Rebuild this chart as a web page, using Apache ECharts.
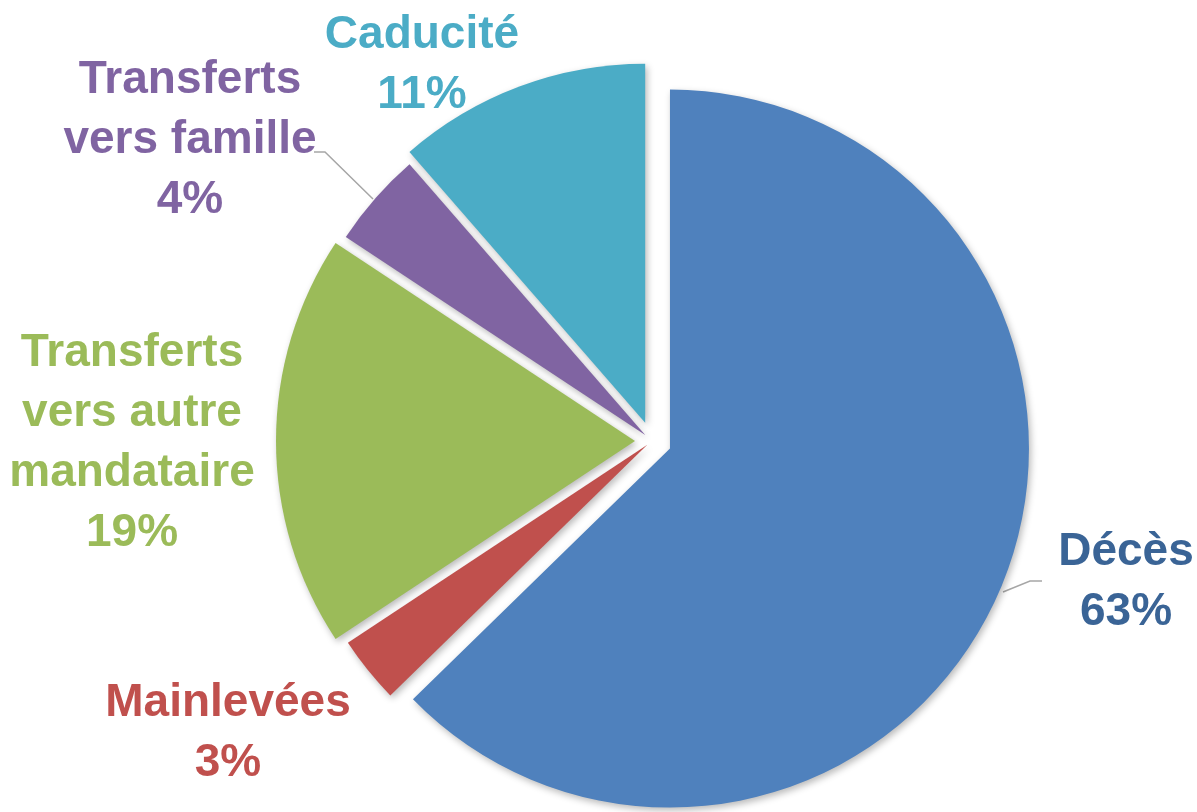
<!DOCTYPE html>
<html>
<head>
<meta charset="utf-8">
<script src="https://cdn.jsdelivr.net/npm/echarts@6/dist/echarts.min.js"></script>
<style>
  html, body { margin: 0; padding: 0; background: #fff; }
  #pieChart { width: 1197px; height: 812px; }
</style>
</head>
<body>
<div id="pieChart"></div>
<script>
// parts de chaque motif (%)
const categories = ['Décès', 'Mainlevées', 'Transferts\nvers autre\nmandataire', 'Transferts\nvers famille', 'Caducité'];
const shares = [62.7, 3.0, 18.6, 4.3, 11.4];
const sliceColors = ['#4f81bd', '#c0504d', '#9bbb59', '#8064a2', '#4bacc6'];
const labelColors = ['#3a6496', '#c0504d', '#9bbb59', '#8064a2', '#4bacc6'];
// décalage de chaque part (px)
const explode = [19.5, 6, 17, 9, 19.5];

// position des étiquettes (centre du bloc), dans l'ordre des catégories
const labelSpots = [
  { x: 1126, y: 582 },
  { x: 228, y: 733 },
  { x: 132, y: 443 },
  { x: 190, y: 140 },
  { x: 422, y: 65 }
];
const leaderLines = {
  0: [[1003, 592], [1030, 581], [1042, 581]],
  3: [[373, 199], [325, 152], [314, 152]]
};

const pieCenter = [652, 441];
const pieRadius = 359;
const hidden = { color: 'rgba(0,0,0,0)', shadowColor: 'rgba(0,0,0,0)' };

let seriesList = [];
// une série par part pour pouvoir détacher chacune de sa propre distance
for (let i = 0; i < categories.length; i++) {
  let data = [];
  for (let j = 0; j < categories.length; j++) {
    data.push({
      name: categories[j],
      value: shares[j],
      selected: j === i,
      itemStyle: j === i ? { color: sliceColors[j] } : hidden
    });
  }
  seriesList.push({
    type: 'pie',
    silent: true,
    center: pieCenter,
    radius: pieRadius,
    startAngle: 90,
    clockwise: true,
    selectedMode: 'multiple',
    selectedOffset: explode[i],
    itemStyle: {
      shadowBlur: 7,
      shadowColor: 'rgba(0,0,0,0.28)',
      shadowOffsetX: 2,
      shadowOffsetY: 3
    },
    emphasis: { disabled: true },
    label: { show: false },
    labelLine: { show: false },
    data: data
  });
}

// les étiquettes (parts invisibles, même découpage)
let labelData = [];
for (let i = 0; i < categories.length; i++) {
  labelData.push({
    name: categories[i],
    value: shares[i],
    label: { color: labelColors[i] },
    labelLine: { show: leaderLines[i] !== undefined }
  });
}
seriesList.push({
  type: 'pie',
  silent: true,
  center: pieCenter,
  radius: pieRadius,
  startAngle: 90,
  clockwise: true,
  avoidLabelOverlap: false,
  itemStyle: hidden,
  emphasis: { disabled: true },
  label: {
    show: true,
    position: 'outside',
    fontFamily: "'Liberation Sans', Arial, sans-serif",
    fontWeight: 'bold',
    fontSize: 46,
    lineHeight: 60,
    formatter: p => p.name + '\n' + Math.round(p.percent) + '%'
  },
  labelLine: {
    lineStyle: { color: '#a6a6a6', width: 1.5 }
  },
  labelLayout: params => {
    let spot = labelSpots[params.dataIndex];
    let res = { x: spot.x, y: spot.y, align: 'center', verticalAlign: 'middle' };
    if (leaderLines[params.dataIndex]) {
      res.labelLinePoints = leaderLines[params.dataIndex];
    }
    return res;
  },
  data: labelData
});

let pieEcharts = echarts.init(document.getElementById('pieChart'));
pieEcharts.setOption({
  animation: false,
  series: seriesList
});
</script>
</body>
</html>
